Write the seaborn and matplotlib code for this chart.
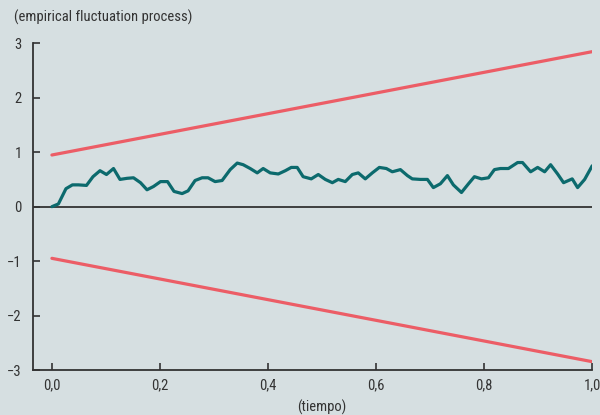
import matplotlib
matplotlib.use("Agg")
import matplotlib.pyplot as plt
from matplotlib import font_manager
import seaborn as sns
import pandas as pd

# Empirical fluctuation process (time, value)
tiempo = [0.000, 0.012, 0.026, 0.038, 0.049, 0.064, 0.076, 0.089, 0.101, 0.114,
          0.126, 0.139, 0.151, 0.164, 0.176, 0.188, 0.201, 0.214, 0.226, 0.241,
          0.252, 0.265, 0.278, 0.289, 0.302, 0.315, 0.330, 0.343, 0.354, 0.367,
          0.380, 0.391, 0.404, 0.419, 0.432, 0.443, 0.454, 0.465, 0.480, 0.493,
          0.506, 0.519, 0.530, 0.543, 0.556, 0.567, 0.580, 0.593, 0.606, 0.619,
          0.630, 0.645, 0.658, 0.667, 0.682, 0.695, 0.706, 0.719, 0.732, 0.743,
          0.758, 0.771, 0.782, 0.795, 0.808, 0.819, 0.830, 0.845, 0.862, 0.871,
          0.886, 0.899, 0.912, 0.923, 0.936, 0.947, 0.963, 0.973, 0.986, 1.000]
proceso = [0.00, 0.05, 0.33, 0.40, 0.40, 0.39, 0.55, 0.66, 0.59, 0.70,
           0.50, 0.52, 0.53, 0.44, 0.31, 0.37, 0.46, 0.46, 0.28, 0.24,
           0.29, 0.48, 0.53, 0.53, 0.46, 0.48, 0.68, 0.80, 0.77, 0.70,
           0.62, 0.70, 0.62, 0.60, 0.66, 0.72, 0.72, 0.55, 0.51, 0.59,
           0.50, 0.44, 0.50, 0.46, 0.59, 0.62, 0.51, 0.62, 0.72, 0.70,
           0.64, 0.68, 0.57, 0.51, 0.50, 0.50, 0.35, 0.42, 0.57, 0.40,
           0.26, 0.42, 0.55, 0.51, 0.53, 0.68, 0.70, 0.70, 0.81, 0.81,
           0.64, 0.72, 0.64, 0.77, 0.60, 0.44, 0.51, 0.35, 0.50, 0.75]

# Linear 5% boundaries at t = 0 and t = 1
limite_t = [0.0, 1.0]
limite_sup = [0.948, 2.844]
limite_inf = [-0.948, -2.844]

x_ticks = [0.0, 0.2, 0.4, 0.6, 0.8, 1.0]
x_ticklabels = ["0,0", "0,2", "0,4", "0,6", "0,8", "1,0"]
y_ticks = [-3, -2, -1, 0, 1, 2, 3]

BG = "#d6dfe1"
TEAL = "#0c6a6d"
RED = "#ec5d66"
INK = "#333333"

sns.set_theme(style="ticks")
names = {f.name for f in font_manager.fontManager.ttflist}
fam = [n for n in ["Liberation Sans Narrow", "DejaVu Sans Condensed", "Roboto Condensed",
                   "Open Sans"] if n in names] + ["DejaVu Sans"]
plt.rcParams["font.family"] = fam
plt.rcParams["axes.unicode_minus"] = True

fig = plt.figure(figsize=(6.0, 4.15), dpi=100, facecolor=BG)
ax = fig.add_axes([0.055, 0.108, 0.932, 0.788])
ax.set_facecolor(BG)

ax.axhline(0, color=INK, lw=1.3, zorder=1)

df_proc = pd.DataFrame({"t": tiempo, "v": proceso})
sns.lineplot(data=df_proc, x="t", y="v", ax=ax, color=TEAL, lw=2.3, zorder=3)
df_lim = pd.DataFrame({"t": limite_t * 2, "v": limite_sup + limite_inf,
                       "lado": ["sup"] * 2 + ["inf"] * 2})
sns.lineplot(data=df_lim, x="t", y="v", units="lado", estimator=None, ax=ax,
             color=RED, lw=2.3, zorder=2)

ax.set_xlim(-0.035, 1.0)
ax.set_ylim(-3, 3)
ax.set_xticks(x_ticks)
ax.set_xticklabels(x_ticklabels)
ax.set_yticks(y_ticks)
ax.set_yticklabels([str(v).replace("-", "\u2212") for v in y_ticks])
ax.tick_params(direction="in", length=5, width=1.2, color=INK, labelcolor=INK,
               labelsize=10.5)
ax.tick_params(axis="y", pad=8)
ax.tick_params(axis="x", pad=6)

for s in ["top", "right"]:
    ax.spines[s].set_visible(False)
for s in ["left", "bottom"]:
    ax.spines[s].set_color(INK)
    ax.spines[s].set_linewidth(1.3)

ax.set_xlabel("")
ax.set_ylabel("")
fig.text(14 / 600, 1 - 17 / 415, "(empirical fluctuation process)", ha="left",
         va="center", fontsize=10.5, color=INK)
ax.text(0.5, -0.115, "(tiempo)", transform=ax.get_xaxis_transform(), ha="center",
        va="center", fontsize=10.5, color=INK)

fig.savefig("out.png", dpi=100, facecolor=BG)
